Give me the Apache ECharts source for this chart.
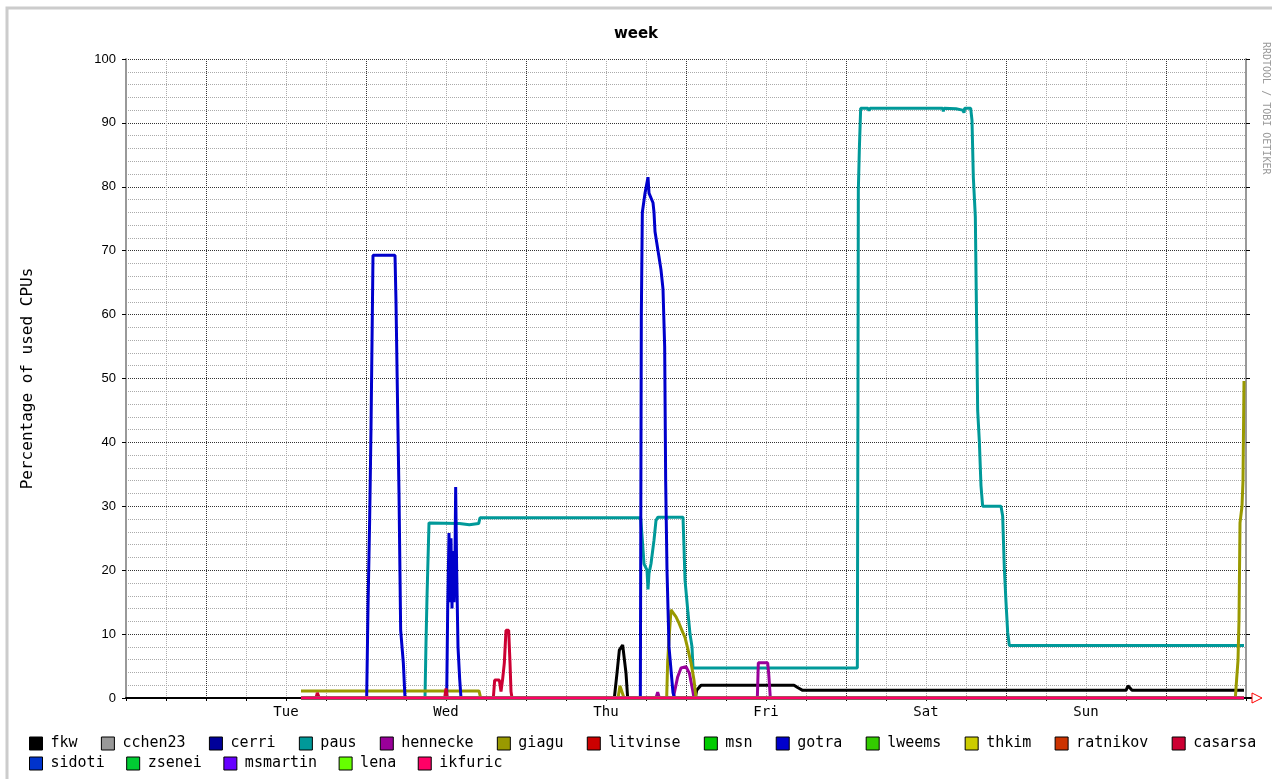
<!DOCTYPE html>
<html><head><meta charset="utf-8">
<script src="https://cdn.jsdelivr.net/npm/echarts@6/dist/echarts.min.js"></script>
<style>html,body{margin:0;padding:0;background:#fff}#c{width:1272px;height:779px}</style>
</head><body><div id="c"></div>
<script>
// x values are hours relative to Tue 00:00
const dayTicks = [12, 36, 60, 84, 108, 132];
const dayNames = ['Tue', 'Wed', 'Thu', 'Fri', 'Sat', 'Sun'];

const seriesNames = ['fkw','cchen23','cerri','paus','hennecke','giagu','litvinse','msn','gotra','lweems','thkim','ratnikov','casarsa',
  'sidoti','zsenei','msmartin','lena','ikfuric'];
const seriesColors = ['#000000','#999999','#000099','#009999','#990099','#999900','#cc0000','#00cc00','#0000cc','#33cc00','#cccc00','#cc3300','#cc0033',
  '#0033cc','#00cc33','#6600ff','#66ff00','#ff0066'];

const zeroRun = [[14.25,0],[155.7,0]];

const fkw = [[14.25,0],[61.25,0],[61.65,3.9],[62.0,7.5],[62.5,8.3],[62.75,8],[63.0,3.9],[63.25,0],[73.4,0],[73.6,1.2],[74.25,2],[88.2,2],[88.8,1.6],[89.5,1.2],[138.0,1.2],[138.3,1.9],[138.6,1.9],[138.9,1.2],[155.7,1.2]];

const paus = [[14.25,0],[32.85,0],[33.0,8.6],[33.15,15.8],[33.3,21.6],[33.45,27.4],[38.0,27.3],[39.5,27.1],[39.6,27.3],[40.9,27.3],[41.1,28.2],[65.2,28.2],[65.5,24],[65.7,21],[66.15,20],[66.3,17],[66.45,19.5],[66.75,21],[67.2,24.7],[67.5,27.8],[67.8,28.3],[71.55,28.3],[71.7,23.6],[71.85,18.5],[72.3,13.3],[72.6,10],[72.9,8],[73.05,4.7],[97.7,4.7],[97.8,50],[97.85,79.5],[98.0,85.8],[98.2,92.3],[99.3,92.3],[99.45,91.9],[99.6,92.3],[107.5,92.3],[107.6,92.0],[107.7,92.3],[110.5,92.3],[110.6,91.8],[110.7,92.3],[112.5,92.2],[112.6,91.9],[113.5,92.0],[113.7,91.6],[113.8,92.3],[114.7,92.3],[114.9,90.4],[115.1,81.5],[115.4,75.3],[115.6,58],[115.75,45],[116.0,40.2],[116.25,33.2],[116.5,30],[119.25,30],[119.5,28.5],[119.75,20.3],[120,15],[120.25,10.3],[120.5,8.2],[155.7,8.2]];

const hennecke = [[14.25,0],[67.5,0],[67.75,0.9],[68.0,0],[70.1,0],[70.25,0.8],[70.75,3.3],[71.25,4.7],[72.0,4.9],[72.5,3.9],[73.0,1.2],[73.2,0],[82.7,0],[82.85,5.5],[84.25,5.5],[84.4,3.9],[84.65,0],[155.7,0]];

const giagu = [[14.25,1.1],[40.95,1.1],[41.2,0],[61.8,0],[62.1,1.9],[62.4,1.9],[62.7,0],[69.1,0],[69.25,5.7],[69.5,10],[69.75,13.8],[70.0,14.1],[70.5,12.7],[70.95,11.7],[71.5,10.3],[71.85,9.5],[72.25,7.8],[72.75,5.5],[73.2,2.8],[73.5,0],[154.4,0],[154.6,3],[154.8,5.9],[154.95,12.2],[155.1,27.4],[155.4,30],[155.55,34],[155.7,49.6]];

const gotra = [[14.25,0],[24.1,0],[24.3,14],[24.55,28],[24.75,42],[24.95,60],[25.05,69.3],[28.35,69.3],[28.5,62],[28.75,45],[28.95,32],[29.2,10.6],[29.6,5.5],[29.85,0],[36.1,0],[36.25,13.5],[36.45,25.8],[36.6,15],[36.75,25],[36.9,14],[37.05,23],[37.2,15],[37.35,22],[37.45,33],[37.6,20],[37.8,8],[38.05,3],[38.25,0],[65.15,0],[65.3,60],[65.45,76],[65.85,79],[66.3,81.5],[66.45,79],[67.05,77.5],[67.2,76],[67.35,73],[67.8,70],[67.95,69],[68.25,67],[68.55,64],[68.8,55],[68.95,34],[69.15,20],[69.45,8],[70.05,0.8],[70.3,0],[155.7,0]];

const casarsa = [[14.25,0],[16.5,0],[16.7,0.8],[17.0,0],[35.8,0],[36.0,1.5],[36.2,0],[43.1,0],[43.3,2.8],[44.0,2.8],[44.25,1],[44.5,3],[44.75,5.5],[45.0,10.6],[45.4,10.6],[45.6,5.5],[45.75,1],[45.9,0],[155.7,0]];

const ikfuric = [[14.25,0],[155.7,0]];

const seriesData = {
  fkw: fkw, cchen23: zeroRun, cerri: zeroRun, paus: paus, hennecke: hennecke, giagu: giagu,
  litvinse: zeroRun, msn: zeroRun, gotra: gotra, lweems: zeroRun, thkim: zeroRun, ratnikov: zeroRun,
  casarsa: casarsa, sidoti: zeroRun, zsenei: zeroRun, msmartin: zeroRun, lena: zeroRun, ikfuric: ikfuric
};

const MONO = '"DejaVu Sans Mono", monospace';
const chart = echarts.init(document.getElementById('c'), null, {renderer: 'canvas'});

const series = seriesNames.map((n, i) => ({
  name: n, type: 'line', data: seriesData[n], showSymbol: false, symbol: 'none',
  color: seriesColors[i], lineStyle: {width: 3, color: seriesColors[i]},
  animation: false, z: 3 + i * 0.01
}));

const legendCommon = {
  icon: 'rect', itemWidth: 13, itemHeight: 13, orient: 'horizontal',
  textStyle: {fontFamily: MONO, fontSize: 15, color: '#000', padding: [0, 0, 0, 3]},
  itemStyle: {borderColor: '#000', borderWidth: 1}, selectedMode: false
};

chart.setOption({
  backgroundColor: '#fff',
  animation: false,
  title: {text: 'week', left: 'center', top: 22,
    textStyle: {fontFamily: '"DejaVu Sans", sans-serif', fontWeight: 'bold', fontSize: 15, color: '#000'}},
  grid: {left: 126, right: 26, top: 59, bottom: 81, containLabel: false},
  legend: [
    Object.assign({}, legendCommon, {data: seriesNames.slice(0, 13), left: 24, top: 731, itemGap: 23.3}),
    Object.assign({}, legendCommon, {data: seriesNames.slice(13), left: 24, top: 751, itemGap: 21.5})
  ],
  xAxis: {
    type: 'value', min: -12, max: 156, interval: 6,
    axisLine: {show: true, onZero: false, lineStyle: {color: '#000', width: 2}},
    axisTick: {show: true, length: 3, inside: false, lineStyle: {color: '#000'}},
    axisLabel: {fontFamily: MONO, fontSize: 14, color: '#000', margin: 7,
      formatter: v => { const k = dayTicks.indexOf(v); return k >= 0 ? dayNames[k] : ''; }},
    splitLine: {show: true, lineStyle: {color: ['#aaaaaa', '#aaaaaa', '#333333', '#aaaaaa'], type: [1, 1], width: 1}}
  },
  yAxis: [{
    type: 'value', min: 0, max: 100, interval: 10,
    name: 'Percentage of used CPUs', nameLocation: 'middle', nameGap: 90, nameRotate: 90,
    nameTextStyle: {fontFamily: MONO, fontSize: 16, color: '#000'},
    axisLine: {show: true, onZero: false, lineStyle: {color: '#999', width: 2}},
    axisTick: {show: true, length: 4, lineStyle: {color: '#000'}},
    axisLabel: {fontFamily: '"Liberation Sans", Arial, sans-serif', fontSize: 13, color: '#000', margin: 10},
    splitLine: {show: true, lineStyle: {color: '#333', type: [1, 1], width: 1}},
    minorTick: {show: false, splitNumber: 5},
    minorSplitLine: {show: true, lineStyle: {color: '#aaaaaa', type: [1, 1], width: 1}}
  }, {
    type: 'value', min: 0, max: 100, interval: 10, position: 'right',
    axisLine: {show: true, onZero: false, lineStyle: {color: '#999', width: 2}},
    axisTick: {show: true, length: 4, lineStyle: {color: '#000'}},
    axisLabel: {show: false}, splitLine: {show: false}
  }],
  series: series,
  graphic: [
    {type: 'rect', shape: {x: 7, y: 8, width: 1300, height: 800}, style: {fill: 'none', stroke: '#cccccc', lineWidth: 3}, silent: true, z: -10},
    {type: 'line', shape: {x1: 1246, y1: 698, x2: 1252, y2: 698}, style: {stroke: '#000', lineWidth: 2}, z: 10},
    {type: 'polygon', shape: {points: [[1252, 693], [1262, 698], [1252, 703]]}, style: {fill: '#fff', stroke: '#ff0000', lineWidth: 1}, z: 10},
    {type: 'text', x: 1266, y: 42, rotation: -Math.PI / 2,
      style: {text: 'RRDTOOL / TOBI OETIKER', font: '10px "DejaVu Sans Mono", monospace', fill: '#999', verticalAlign: 'middle', align: 'left'}, z: 10}
  ]
});
</script>
</body></html>
